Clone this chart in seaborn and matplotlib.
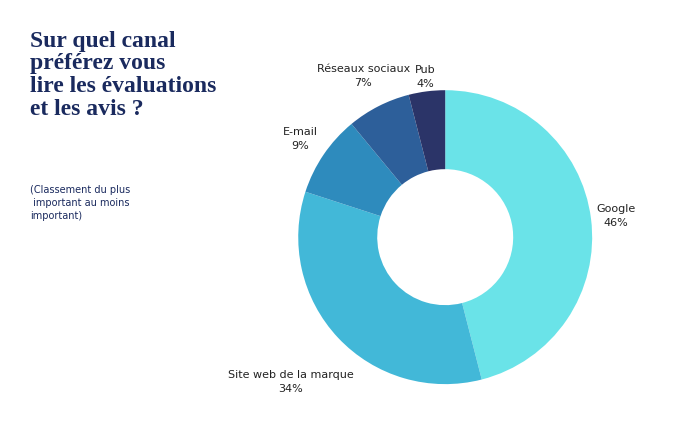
import matplotlib
matplotlib.use("Agg")
import matplotlib.pyplot as plt
import seaborn as sns
import numpy as np

categories = ["Google", "Site web de la marque", "E-mail", "Réseaux sociaux", "Pub"]
values = [46, 34, 9, 7, 4]
colors = ["#6ae3e8", "#42b8d8", "#2e8bbd", "#2d5f9a", "#2b3468"]
label_dist = [1.17, 1.44, 1.19, 1.23, 1.1]

sns.set_theme(style="white")
fig = plt.figure(figsize=(7, 4.4), dpi=100)
ax = fig.add_axes([0.636 - 0.21, 0.461 - 0.334, 0.42, 0.668])
wedges, _ = ax.pie(values, colors=colors, startangle=90, counterclock=False,
                   wedgeprops=dict(width=1 - 68/147, edgecolor="none"))
ax.set_xlim(-1, 1)
ax.set_ylim(-1, 1)
ax.set_aspect("equal")
ax.axis("off")
cum = np.cumsum([0] + values[:-1])
for cat, v, c0, d in zip(categories, values, cum, label_dist):
    ang = np.deg2rad(90 - (c0 + v / 2) / 100 * 360)
    ax.text(d * np.cos(ang), d * np.sin(ang), f"{cat}\n{v}%", ha="center", va="center",
            fontsize=8, color="#222222", linespacing=1.5, clip_on=False)

fig.text(0.043, 0.93, "Sur quel canal\npréférez vous\nlire les évaluations\net les avis ?",
         ha="left", va="top", fontsize=17, fontweight="bold", family="Liberation Serif",
         color="#1a2a5e", linespacing=1.1)
fig.text(0.043, 0.58, "(Classement du plus\n important au moins\nimportant)", ha="left", va="top",
         fontsize=7, color="#1a2a5e", linespacing=1.4)
fig.savefig("out.png", dpi=100, facecolor="white")
